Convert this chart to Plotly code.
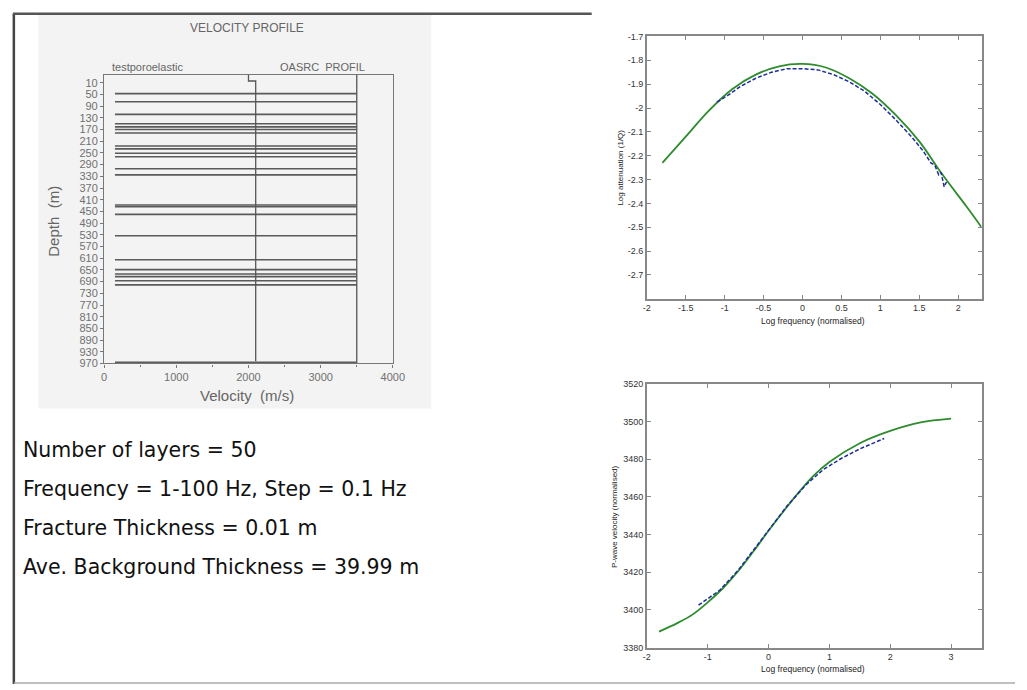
import plotly.graph_objects as go

W, H = 1027, 690

# ---------------- data ----------------
layer_depths = [47, 75, 118, 150, 161, 170, 182, 226, 236, 251, 263, 304, 325,
                428, 434, 460, 533, 615, 649, 664, 673, 687, 701, 966]
layer_vmin = 150
layer_vmax = 3500
poro_v = [2000, 2000, 2100, 2100]
poro_d = [-17, 4, 4, 962]
oasrc_v = [3500, 3500]
oasrc_d = [-17, 970]
depth_ticks = list(range(10, 971, 40))
vel_ticks = [0, 1000, 2000, 3000, 4000]

att_model_x = [-1.8, -1.5, -1.2, -0.9, -0.6, -0.3, 0.0, 0.3, 0.6, 0.9, 1.2, 1.5, 1.8, 2.1, 2.3]
att_model_y = [-2.23, -2.12, -2.01, -1.92, -1.86, -1.825, -1.815, -1.83, -1.875, -1.94,
               -2.03, -2.14, -2.28, -2.41, -2.50]
att_data_x = [-1.1, -0.95, -0.8, -0.6, -0.4, -0.2, 0.0, 0.2, 0.4, 0.6, 0.8, 1.0, 1.2, 1.4,
              1.55, 1.65, 1.7, 1.75, 1.78, 1.82, 1.85]
att_data_y = [-1.975, -1.945, -1.91, -1.875, -1.85, -1.835, -1.835, -1.84, -1.86, -1.89,
              -1.93, -1.985, -2.05, -2.12, -2.18, -2.23, -2.24, -2.28, -2.27, -2.33, -2.31]
att_xticks = [-2, -1.5, -1, -0.5, 0, 0.5, 1, 1.5, 2]
att_xtext = ["-2", "-1.5", "-1", "-0.5", "0", "0.5", "1", "1.5", "2"]
att_yticks = [-2.7, -2.6, -2.5, -2.4, -2.3, -2.2, -2.1, -2, -1.9, -1.8, -1.7]
att_ytext = ["-2.7", "-2.6", "-2.5", "-2.4", "-2.3", "-2.2", "-2.1", "-2", "-1.9", "-1.8", "-1.7"]

vel_model_x = [-1.8, -1.5, -1.25, -1.0, -0.75, -0.5, -0.25, 0.0, 0.25, 0.5, 0.75, 1.0, 1.5, 2.0, 2.5, 3.0]
vel_model_y = [3388.5, 3393.0, 3397.5, 3404.0, 3411.5, 3420.5, 3431.0, 3442.0, 3452.5, 3462.5,
               3471.5, 3478.5, 3488.5, 3495.0, 3499.5, 3501.5]
vel_data_x = [-1.15, -0.8, -0.5, -0.2, 0.0, 0.3, 0.6, 0.9, 1.2, 1.5, 1.9]
vel_data_y = [3402.5, 3410.5, 3421.0, 3434.0, 3442.0, 3455.0, 3466.0, 3474.5, 3480.5, 3485.5, 3491.0]
vel_xticks = [-2, -1, 0, 1, 2, 3]
vel_xtext = ["-2", "-1", "0", "1", "2", "3"]
vel_yticks = [3380, 3400, 3420, 3440, 3460, 3480, 3500, 3520]

info_lines = ["Number of layers = 50",
              "Frequency = 1-100 Hz, Step = 0.1 Hz",
              "Fracture Thickness = 0.01 m",
              "Ave. Background Thickness = 39.99 m"]


def px(x):
    return x / W


def py(y):
    return 1 - y / H


fig = go.Figure()

# layer lines
lx, ly = [], []
for d in layer_depths:
    lx += [layer_vmin, layer_vmax, None]
    ly += [d, d, None]
fig.add_trace(go.Scatter(x=lx, y=ly, mode="lines", line=dict(color="#5a5a5a", width=1.6),
                         xaxis="x", yaxis="y", showlegend=False, hoverinfo="skip"))
fig.add_trace(go.Scatter(x=poro_v, y=poro_d, mode="lines", line=dict(color="#555", width=1.3),
                         xaxis="x", yaxis="y", showlegend=False))
fig.add_trace(go.Scatter(x=oasrc_v, y=oasrc_d, mode="lines", line=dict(color="#555", width=1.3),
                         xaxis="x", yaxis="y", showlegend=False))

# attenuation
fig.add_trace(go.Scatter(x=att_model_x, y=att_model_y, mode="lines",
                         line=dict(color="#2e8b2e", width=1.8, shape="spline"),
                         xaxis="x2", yaxis="y2", showlegend=False))
fig.add_trace(go.Scatter(x=att_data_x, y=att_data_y, mode="lines",
                         line=dict(color="#1e2d9a", width=1.5, dash="4px,2px"),
                         xaxis="x2", yaxis="y2", showlegend=False))
# velocity dispersion
fig.add_trace(go.Scatter(x=vel_model_x, y=vel_model_y, mode="lines",
                         line=dict(color="#2e8b2e", width=1.8, shape="spline", smoothing=1.0),
                         xaxis="x3", yaxis="y3", showlegend=False))
fig.add_trace(go.Scatter(x=vel_data_x, y=vel_data_y, mode="lines",
                         line=dict(color="#1e2d9a", width=1.5, dash="4px,2px"),
                         xaxis="x3", yaxis="y3", showlegend=False))

left_font = dict(family="Liberation Sans", size=11, color="#707070")
right_font = dict(family="Liberation Sans", size=9, color="#333")

mat_axis = dict(showgrid=False, zeroline=False, showline=True, linecolor="#888", linewidth=1.5,
                mirror="allticks", ticks="inside", ticklen=4, tickcolor="#888", tickfont=right_font)

fig.update_layout(
    width=W, height=H, margin=dict(l=0, r=0, t=0, b=0),
    paper_bgcolor="white", plot_bgcolor="rgba(0,0,0,0)",
    xaxis=dict(domain=[px(101.7), px(395)], range=[0, 4000], tickvals=vel_ticks,
               showgrid=False, zeroline=False, showline=True, linecolor="#777", linewidth=1.3,
               mirror=True, ticks="outside", ticklen=3, tickcolor="#777", tickfont=left_font,
               minor=dict(dtick=500, ticks="outside", ticklen=2, tickcolor="#777")),
    yaxis=dict(domain=[py(364.3), py(71)], range=[970, -17], tickvals=depth_ticks,
               showgrid=False, zeroline=False, showline=True, linecolor="#777", linewidth=1.3,
               mirror=True, ticks="outside", ticklen=3, tickcolor="#777", tickfont=left_font),
    xaxis2=dict(domain=[px(653), px(993)], range=[-2, 2.3], tickvals=att_xticks, ticktext=att_xtext,
                anchor="y2", **mat_axis),
    yaxis2=dict(domain=[py(298.6), py(32)], range=[-2.8, -1.7], tickvals=att_yticks, ticktext=att_ytext,
                anchor="x2", **mat_axis),
    xaxis3=dict(domain=[px(653), px(993)], range=[-2, 3.5], tickvals=vel_xticks, ticktext=vel_xtext,
                anchor="y3", **mat_axis),
    yaxis3=dict(domain=[py(653), py(385)], range=[3380, 3520], tickvals=vel_yticks,
                anchor="x3", **mat_axis),
)

shapes = [
    dict(type="rect", xref="paper", yref="paper", x0=px(35), x1=px(434), y0=py(410), y1=py(8),
         fillcolor="#f3f3f3", line=dict(width=0), layer="below"),
    dict(type="line", xref="paper", yref="paper", x0=px(10), x1=px(10), y0=py(690), y1=py(9),
         line=dict(color="#444", width=2.5)),
    dict(type="line", xref="paper", yref="paper", x0=px(9), x1=px(597), y0=py(9), y1=py(9),
         line=dict(color="#555", width=2.5)),
    dict(type="line", xref="paper", yref="paper", x0=px(10), x1=px(1027), y0=py(689), y1=py(689),
         line=dict(color="#aaa", width=1.5)),
]
fig.update_layout(shapes=shapes)

ann = []


def note(text, x, y, size, color="#666", angle=0, xanchor="center", family="Liberation Sans"):
    ann.append(dict(text=text, x=px(x), y=py(y), xref="paper", yref="paper", showarrow=False,
                    xanchor=xanchor, yanchor="middle", textangle=angle,
                    font=dict(family=family, size=size, color=color)))


note("VELOCITY PROFILE", 247, 23, 12)
note("testporoelastic", 108, 63, 11, xanchor="left")
note("OASRC  PROFIL", 278, 63, 11, xanchor="left")
note("Depth  (m)", 50, 220, 15, angle=-90)
note("Velocity  (m/s)", 247, 397, 15)

note("Log attenuation (1/Q)", 626, 165, 8, color="#222", angle=-90)
note("Log frequency (normalised)", 822, 321, 8.5, color="#222")
note("P-wave velocity (normalised)", 620, 520, 8, color="#222", angle=-90)
note("Log frequency (normalised)", 822, 675, 8.5, color="#222")

for i, t in enumerate(info_lines):
    note(t, 17, 452 + i * 39.6, 20.5, color="#111", xanchor="left", family="DejaVu Sans")

fig.update_layout(annotations=ann)

fig.write_html("out.html")
